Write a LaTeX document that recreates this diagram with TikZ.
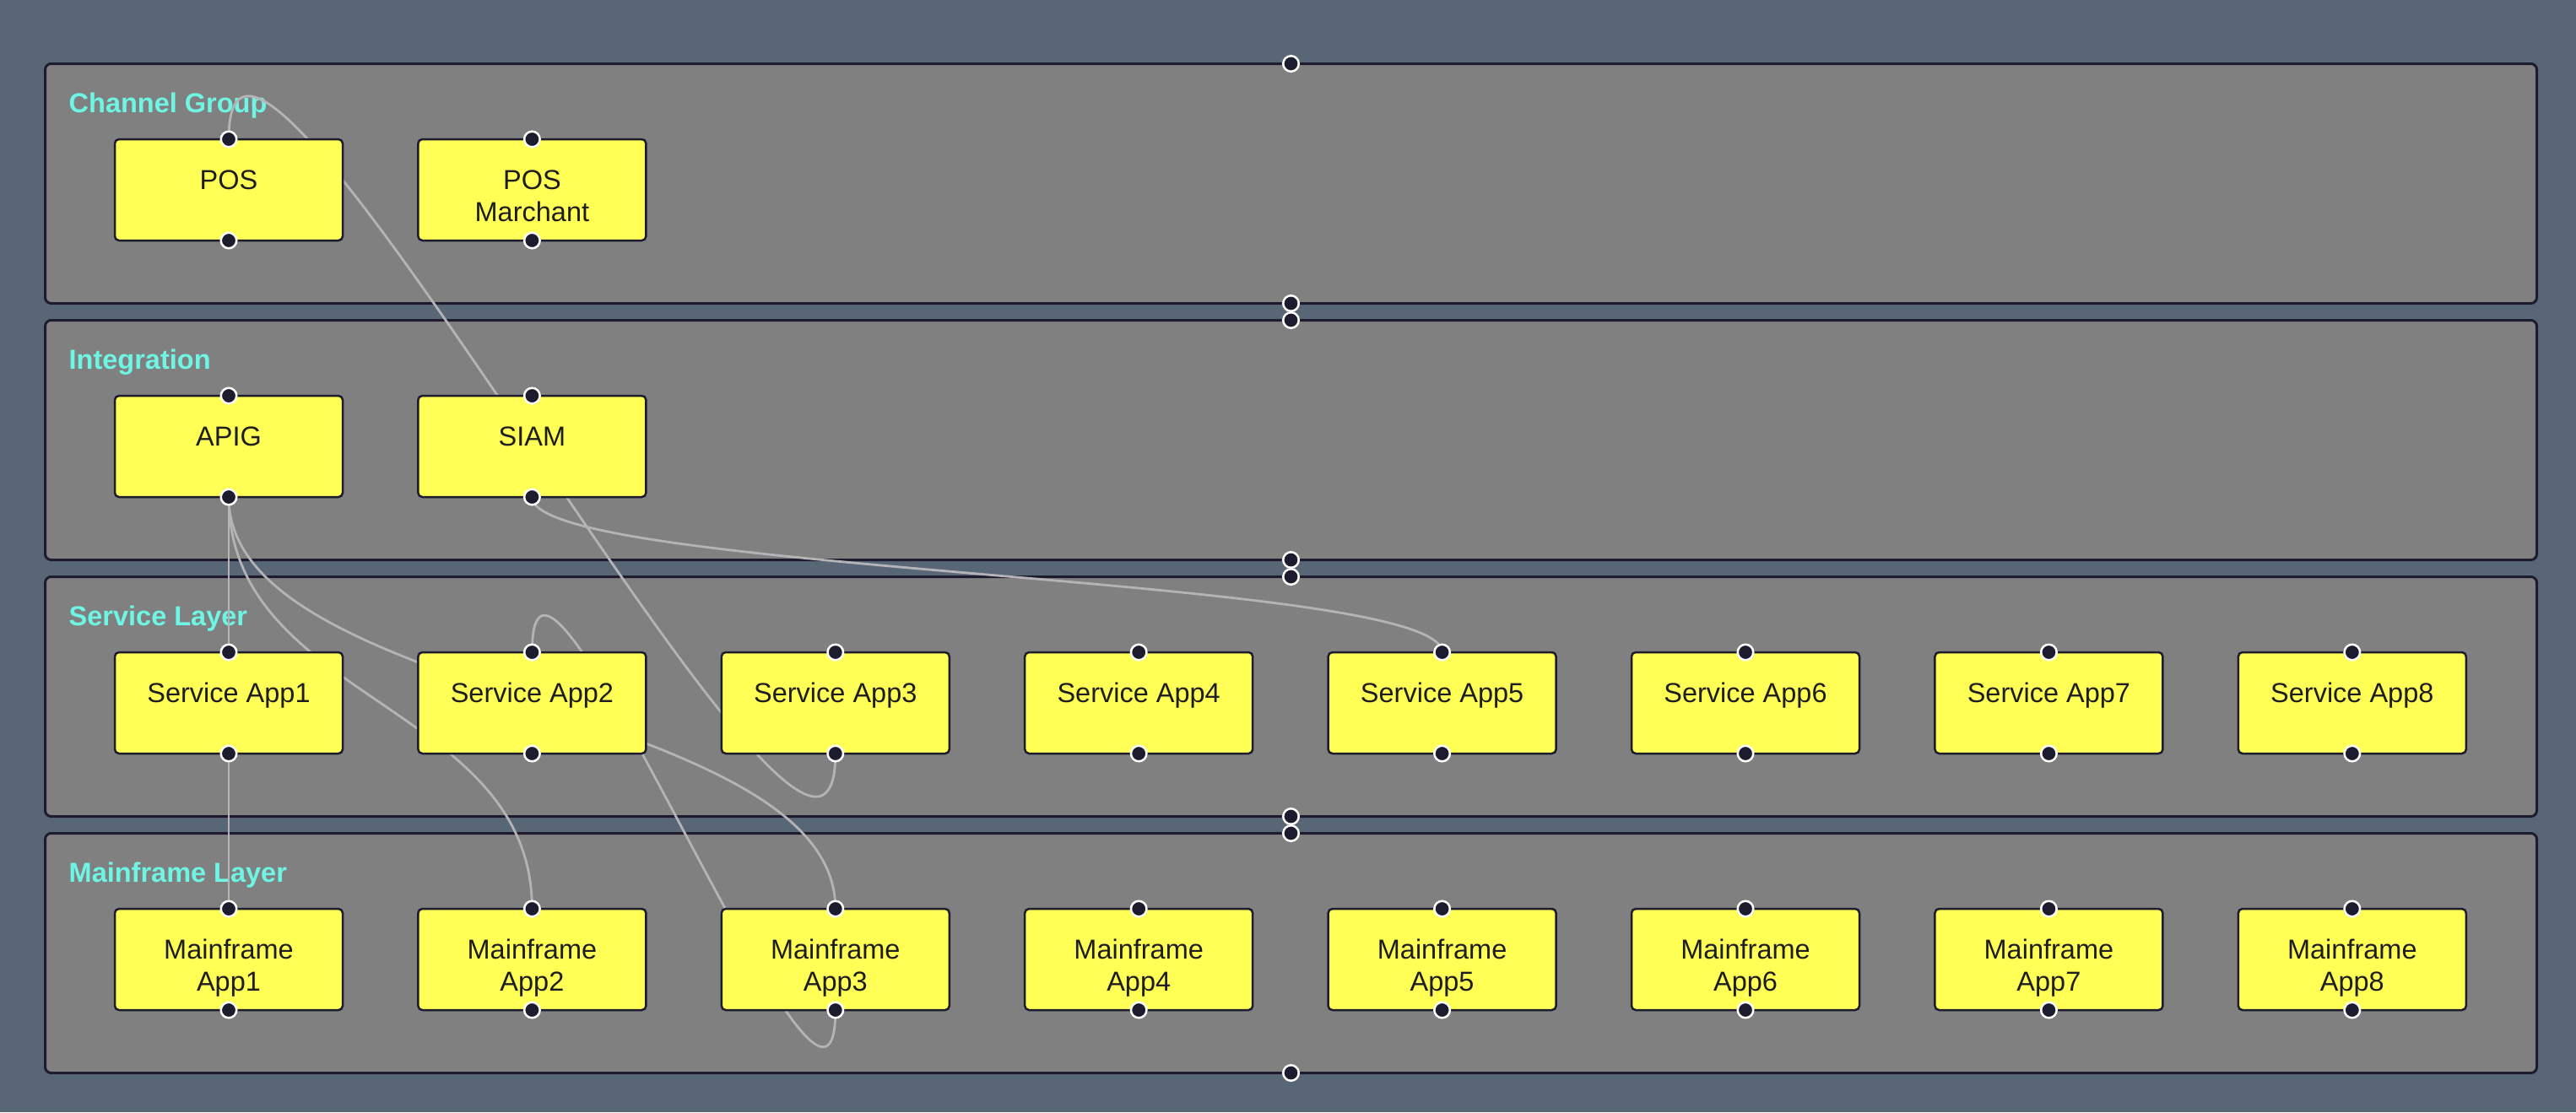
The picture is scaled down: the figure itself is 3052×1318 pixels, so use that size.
\documentclass[tikz,border=0pt]{standalone}
\usepackage{fontspec}
\setmainfont{Liberation Sans}
\usetikzlibrary{calc}
\definecolor{bgc}{HTML}{596676}
\definecolor{panelc}{HTML}{808080}
\definecolor{darkc}{HTML}{1C1C2E}
\definecolor{yellowc}{HTML}{FFFF55}
\definecolor{cyanc}{HTML}{6EF5E4}
\definecolor{edgec}{HTML}{B4B4B8}
\definecolor{textc}{HTML}{1E1E22}
\pgfdeclarelayer{bglayer}
\pgfdeclarelayer{edgelayer}
\pgfsetlayers{bglayer,edgelayer,main}
\begin{document}
\begin{tikzpicture}[x=1pt,y=-1pt,
  panel/.style={draw=darkc, fill=panelc, line width=3pt, rounded corners=7pt,
    minimum width=2952pt, minimum height=284pt, inner sep=0pt, outer sep=0pt},
  appbox/.style={draw=darkc, fill=yellowc, line width=2.5pt, rounded corners=5pt,
    minimum width=270pt, minimum height=120pt, inner sep=0pt, outer sep=0pt},
  apptext/.style={anchor=base, inner sep=0pt, text=textc, font=\fontsize{32.5}{38}\selectfont},
  paneltitle/.style={anchor=base west, inner sep=0pt, text=cyanc, font=\bfseries\fontsize{32.5}{38}\selectfont},
  handle/.style={circle, draw=white, fill=darkc, line width=2.5pt, minimum size=18.5pt, inner sep=0pt},
  edgeline/.style={draw=edgec, line width=2.8pt}
]
\useasboundingbox (0,0) rectangle (3052,1318);
\begin{pgfonlayer}{bglayer}
  \fill[bgc] (0,0) rectangle (3052,1318);
  \node[panel] (chan)  at (1529.5,217.5) {};
  \node[panel] (integ) at (1529.5,521.5) {};
  \node[panel] (serv)  at (1529.5,825.5) {};
  \node[panel] (mainf) at (1529.5,1129.5) {};
  \node[paneltitle] (tchan)  at (81.5,133.3) {Channel Group};
  \node[paneltitle] (tinteg) at (81.5,437.3) {Integration};
  \node[paneltitle] (tserv)  at (81.5,741.3) {Service Layer};
  \node[paneltitle] (tmainf) at (81.5,1045.3) {Mainframe Layer};
\end{pgfonlayer}

% Channel Group
\node[appbox] (pos) at (271,225) {};
\node[apptext] (tpos) at ($(pos.north)+(0,59)$) {POS};
\node[appbox] (posm) at (630.4,225) {};
\node[apptext] (tposm1) at ($(posm.north)+(0,59)$) {POS};
\node[apptext] (tposm2) at ($(posm.north)+(0,97)$) {Marchant};

% Integration
\node[appbox] (apig) at (271,529) {};
\node[apptext] (tapig) at ($(apig.north)+(0,59)$) {APIG};
\node[appbox] (siam) at (630.4,529) {};
\node[apptext] (tsiam) at ($(siam.north)+(0,59)$) {SIAM};

% Service and Mainframe rows
\foreach \i in {1,...,8}{
  \node[appbox] (sa\i) at ({271+359.4*(\i-1)},833) {};
  \node[apptext] (tsa\i) at ($(sa\i.north)+(0,59)$) {Service App\i};
  \node[appbox] (mf\i) at ({271+359.4*(\i-1)},1137) {};
  \node[apptext] (tmfa\i) at ($(mf\i.north)+(0,59)$) {Mainframe};
  \node[apptext] (tmfb\i) at ($(mf\i.north)+(0,97)$) {App\i};
}

% Connectors
\begin{pgfonlayer}{edgelayer}
  \draw[edgeline] (pos.north) .. controls +(0,-330) and +(0,330) .. (sa3.south);
  \draw[edgeline] (siam.south) .. controls +(0,91) and +(0,-91) .. (sa5.north);
  \draw[edgeline] (apig.south) -- (sa1.north);
  \draw[edgeline] (sa1.south) -- (mf1.north);
  \draw[edgeline] (apig.south) .. controls +(0,243) and +(0,-243) .. (mf2.north);
  \draw[edgeline] (apig.south) .. controls +(0,243) and +(0,-243) .. (mf3.north);
  \draw[edgeline] (sa2.north) .. controls +(0,-252) and +(0,252) .. (mf3.south);
\end{pgfonlayer}

% Handles
\foreach \n in {pos,posm,apig,siam,sa1,sa2,sa3,sa4,sa5,sa6,sa7,sa8,mf1,mf2,mf3,mf4,mf5,mf6,mf7,mf8}{
  \node[handle] (\n-in) at (\n.north) {};
  \node[handle] (\n-out) at (\n.south) {};
}
\foreach \n in {chan,integ,serv,mainf}{
  \node[handle] (\n-in) at (\n.north) {};
  \node[handle] (\n-out) at (\n.south) {};
}
\end{tikzpicture}
\end{document}
